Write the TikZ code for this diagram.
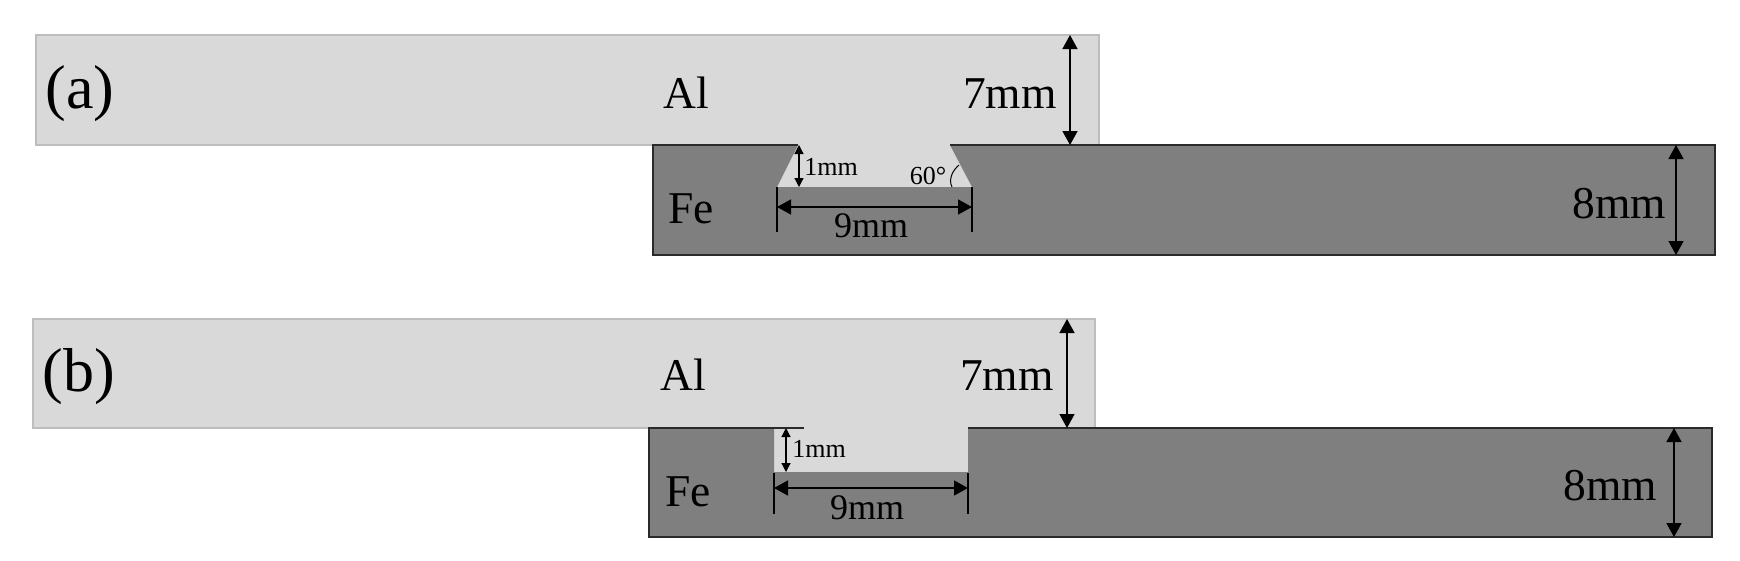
\documentclass[tikz,border=0pt]{standalone}
\usepackage{fontspec}
\setmainfont{Liberation Serif}
\usetikzlibrary{arrows.meta}
\definecolor{alfill}{HTML}{D9D9D9}
\definecolor{alline}{HTML}{BDBDBD}
\definecolor{fefill}{HTML}{7F7F7F}
\definecolor{feline}{HTML}{2A2A2A}
\tikzset{
  alplate/.style={fill=alfill,draw=alline,line width=1.3pt},
  feplate/.style={fill=fefill,draw=none},
  feedge/.style={draw=feline,line width=1.3pt},
  bigdim/.style={draw=black,line width=1.5pt,{Stealth[length=14pt,width=15pt,inset=0pt]}-{Stealth[length=14pt,width=15pt,inset=0pt]}},
  smalldim/.style={draw=black,line width=1.2pt,{Stealth[length=9pt,width=9pt,inset=0pt]}-{Stealth[length=9pt,width=9pt,inset=0pt]}},
  tick/.style={draw=black,line width=1.2pt},
  big/.style={inner sep=0pt,anchor=base,font=\fontsize{45.5}{46}\selectfont,text=black},
  mid/.style={inner sep=0pt,anchor=base,font=\fontsize{36}{36}\selectfont,text=black},
  tiny/.style={inner sep=0pt,anchor=base,font=\fontsize{26}{26}\selectfont,text=black},
  panel/.style={inner sep=0pt,anchor=base,font=\fontsize{62}{62}\selectfont,text=black},
}
\begin{document}
\begin{tikzpicture}[x=1pt,y=-1pt]
\useasboundingbox (0,0) rectangle (1740,560);
\fill[white] (0,0) rectangle (1740,560);
% ---- panel (a)
\draw[alplate] (36,35) rectangle (1099,145);
\fill[alfill] (798,143) -- (777,187) -- (972,187) -- (950,143) -- cycle;
\fill[feplate] (653,145) -- (798,145) -- (777,187) -- (972,187) -- (950,145) -- (1715,145) -- (1715,255) -- (653,255) -- cycle;
\draw[feedge] (798,145) -- (653,145) -- (653,255) -- (1715,255) -- (1715,145) -- (950,145);
\coordinate (a7t) at (1070,35); \coordinate (a7b) at (1070,145);
\coordinate (a8t) at (1676,145); \coordinate (a8b) at (1676,255);
\coordinate (a1t) at (799,145); \coordinate (a1b) at (799,187);
\coordinate (a9l) at (777,207); \coordinate (a9r) at (972,207);
\coordinate (atl1) at (777,187); \coordinate (atl2) at (777,232);
\coordinate (atr1) at (972,187); \coordinate (atr2) at (972,232);
\draw[bigdim] (a7t) -- (a7b);
\draw[bigdim] (a8t) -- (a8b);
\draw[smalldim] (a1t) -- (a1b);
\draw[bigdim] (a9l) -- (a9r);
\draw[tick] (atl1) -- (atl2);
\draw[tick] (atr1) -- (atr2);
\draw[black,line width=1pt] (959,165) .. controls (953,170) and (948,179) .. (952,187);
\node[panel] (alabel) at (80,108) {(a)};
\node[big] (aal) at (686,108) {Al};
\node[big] (afe) at (691,223) {Fe};
\node[big] (a7) at (1010,108) {7mm};
\node[big] (a8) at (1619,218) {8mm};
\node[mid] (a9) at (871,237) {9mm};
\node[tiny] (a1) at (831,175) {1mm};
\node[tiny] (a60) at (928,184) {60°};
% ---- panel (b)
\draw[alplate] (33,319) rectangle (1095,428);
\fill[alfill] (774,426) -- (774,472) -- (968,472) -- (968,426) -- cycle;
\fill[feplate] (649,428) -- (774,428) -- (774,472) -- (968,472) -- (968,428) -- (1712,428) -- (1712,537) -- (649,537) -- cycle;
\draw[feedge] (804,428) -- (649,428) -- (649,537) -- (1712,537) -- (1712,428) -- (968,428);
\coordinate (b7t) at (1067,319); \coordinate (b7b) at (1067,428);
\coordinate (b8t) at (1674,428); \coordinate (b8b) at (1674,537);
\coordinate (b1t) at (786,428); \coordinate (b1b) at (786,472);
\coordinate (b9l) at (774,488); \coordinate (b9r) at (968,488);
\coordinate (btl1) at (774,473); \coordinate (btl2) at (774,514);
\coordinate (btr1) at (968,473); \coordinate (btr2) at (968,514);
\draw[bigdim] (b7t) -- (b7b);
\draw[bigdim] (b8t) -- (b8b);
\draw[smalldim] (b1t) -- (b1b);
\draw[bigdim] (b9l) -- (b9r);
\draw[tick] (btl1) -- (btl2);
\draw[tick] (btr1) -- (btr2);
\node[panel] (blabel) at (79,391) {(b)};
\node[big] (bal) at (683,390) {Al};
\node[big] (bfe) at (688,506) {Fe};
\node[big] (b7) at (1007,390) {7mm};
\node[big] (b8) at (1610,500) {8mm};
\node[mid] (b9) at (867,519) {9mm};
\node[tiny] (b1) at (819,457) {1mm};
\end{tikzpicture}
\end{document}
